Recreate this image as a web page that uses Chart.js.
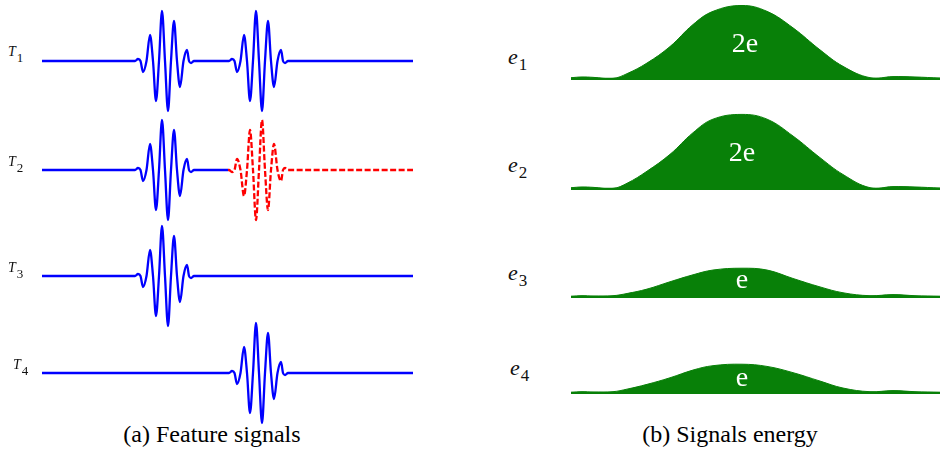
<!DOCTYPE html>
<html>
<head>
<meta charset="utf-8">
<script src="https://cdn.jsdelivr.net/npm/chart.js@4"></script>
</head>
<body style="margin:0;background:#fff">
<div style="position:absolute;left:62px;top:422px;width:300px;text-align:center;line-height:1;font-size:24px;font-family:'Liberation Serif'">(a) Feature signals</div>
<div style="position:absolute;left:580px;top:422px;width:300px;text-align:center;line-height:1;font-size:24px;font-family:'Liberation Serif'">(b) Signals energy</div>
<script>
// one burst of the feature signal: sample times (relative to onset) and amplitude
const burstTimes = [0, 3, 5.5, 8, 11.5, 15, 18, 21, 24, 27, 30, 33, 36, 39, 42, 45, 48.5, 52, 54, 56, 59];
const burstShape = [0, 0.04, 0, -0.22, 0, 0.52, 0, -0.8, 0, 1, 0, -1, 0, 0.8, 0, -0.52, 0, 0.22, 0, -0.04, 0];

const signalNames = ["1", "2", "3", "4"];
const traceEnd = 371;
const blueBursts = [[93, 187], [93], [93], [187]];
const blueEnd = [371, 186, 371, 371];
const redBursts = [[], [187], [], []];
const redStart = 186;

// energy envelopes (in units of e)
const energyX = [0, 11, 22, 42, 56, 76, 99, 122, 142, 171, 196, 222, 249, 272, 299, 322, 344, 369];
const energy1 = [0.03, 0.05, 0.04, 0.01, 0.14, 0.43, 0.88, 1.48, 1.84, 2.0, 1.84, 1.39, 0.79, 0.34, 0.03, 0.06, 0.05, 0.02];
const energy2 = [0.03, 0.05, 0.04, 0.01, 0.15, 0.48, 0.94, 1.53, 1.9, 2.03, 1.9, 1.44, 0.85, 0.39, 0.03, 0.06, 0.05, 0.02];
const energy3 = [0.01, 0.03, 0.02, 0.03, 0.09, 0.21, 0.41, 0.6, 0.73, 0.78, 0.73, 0.5, 0.27, 0.11, 0.03, 0.06, 0.03, 0.01];
const energy4 = [0.01, 0.03, 0.02, 0.03, 0.1, 0.23, 0.41, 0.62, 0.74, 0.78, 0.72, 0.55, 0.32, 0.13, 0.03, 0.06, 0.03, 0.01];
const energyTags = ["2e", "2e", "e", "e"];

// layout
const leftBaselines = [60.7, 170, 276, 372.7];
const leftLabelPos = [[8, 57], [8, 167], [8, 273], [13, 370]];
const rightBaselines = [79, 189, 296.7, 393.3];
const rightLabelPos = [[508, 64], [508, 172], [508, 280], [510, 375]];
const tagPos = [[745, 52], [742, 161], [742, 288], [742, 386]];
const serif = "'Liberation Serif'";

function makeCanvas(left, top, w, h) {
  const c = document.createElement("canvas");
  c.width = w; c.height = h;
  c.style.cssText = "position:absolute;left:" + left + "px;top:" + top + "px;width:" + w + "px;height:" + h + "px";
  document.body.appendChild(c);
  return c;
}

function addLabel(x, baseline, size, letter, sub, subSize) {
  const d = document.createElement("div");
  d.style.cssText = "position:absolute;left:" + x + "px;top:" + Math.round(baseline - 0.8375 * size) +
    "px;line-height:1;font-size:" + size + "px;color:#111;font-family:" + serif;
  d.innerHTML = "<i style=\"font-family:" + serif + "\">" + letter + "</i>" +
    "<sub style=\"font-style:normal;font-size:" + subSize + "px;vertical-align:-6px;line-height:1;margin-left:1px;font-family:" +
    serif + "\">" + sub + "</sub>";
  document.body.appendChild(d);
}

function addTag(cx, baseline, text) {
  const d = document.createElement("div");
  d.style.cssText = "position:absolute;left:" + (cx - 50) + "px;top:" + Math.round(baseline - 0.8375 * 28) +
    "px;width:100px;text-align:center;line-height:1;font-size:28px;color:#fff;font-family:" + serif;
  d.textContent = text;
  document.body.appendChild(d);
}

function trace(start, end, onsets, sign) {
  const pts = [{ x: start, y: 0 }];
  onsets.forEach((on) => {
    burstTimes.forEach((t, i) => pts.push({ x: on + t, y: sign * burstShape[i] }));
  });
  pts.push({ x: end, y: 0 });
  return pts;
}

const baseOptions = (xmax, ymin, ymax) => ({
  responsive: false,
  animation: false,
  layout: { padding: 0 },
  plugins: { legend: { display: false }, tooltip: { enabled: false } },
  elements: { point: { radius: 0 } },
  scales: {
    x: { type: "linear", display: false, min: 0, max: xmax },
    y: { display: false, min: ymin, max: ymax },
  },
});

// (a) feature signals
signalNames.forEach((name, r) => {
  const ctx = makeCanvas(42, leftBaselines[r] - 60, traceEnd, 120).getContext("2d");
  const datasets = [
    {
      data: trace(0, blueEnd[r], blueBursts[r], 1),
      borderColor: "#0000ff",
      borderWidth: 2.3,
      cubicInterpolationMode: "monotone",
    },
  ];
  if (redBursts[r].length) {
    datasets.push({
      data: trace(redStart, traceEnd, redBursts[r], -1),
      borderColor: "#ff0000",
      borderWidth: 2.3,
      borderDash: [6, 2.5],
      cubicInterpolationMode: "monotone",
    });
  }
  new Chart(ctx, { type: "line", data: { datasets }, options: baseOptions(traceEnd, -1.2, 1.2) });
  addLabel(leftLabelPos[r][0], leftLabelPos[r][1], 14, "T", name, 13);
});

// (b) signals energy
const energies = [energy1, energy2, energy3, energy4];
energies.forEach((vals, r) => {
  const h = 81;
  const top = rightBaselines[r] - (2.15 / 2.21) * h;
  const ctx = makeCanvas(571, top, 369, h).getContext("2d");
  new Chart(ctx, {
    type: "line",
    data: {
      datasets: [
        {
          data: energyX.map((x, i) => ({ x, y: vals[i] })),
          borderColor: "#088008",
          backgroundColor: "#088008",
          borderWidth: 1,
          fill: "origin",
          tension: 0.4,
        },
        {
          data: [{ x: 0, y: 0 }, { x: 369, y: 0 }],
          borderColor: "#088008",
          borderWidth: 2.2,
        },
      ],
    },
    options: baseOptions(369, -0.06, 2.15),
  });
  addLabel(rightLabelPos[r][0], rightLabelPos[r][1], 22, "e", signalNames[r], 17);
  addTag(tagPos[r][0], tagPos[r][1], energyTags[r]);
});
</script>
</body>
</html>
